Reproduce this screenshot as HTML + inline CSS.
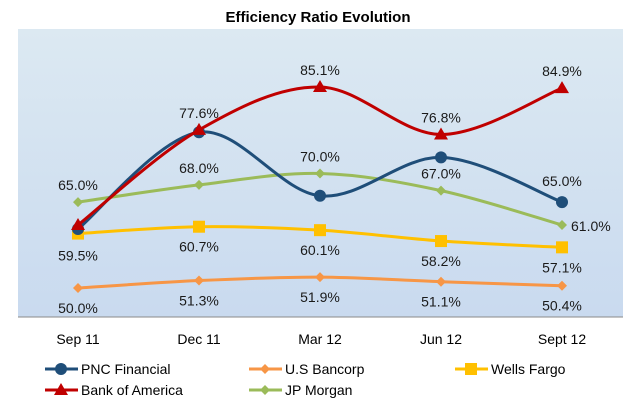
<!DOCTYPE html>
<html><head><meta charset="utf-8"><style>
body{margin:0;background:#fff;}
svg text{font-family:"Liberation Sans",sans-serif;}
</style></head><body>
<svg id="c" width="636" height="402" xmlns="http://www.w3.org/2000/svg">
<defs><linearGradient id="bg" x1="0" y1="0" x2="0" y2="1"><stop offset="0" stop-color="#dce9f2"/><stop offset="1" stop-color="#c9daef"/></linearGradient></defs>
<rect x="18" y="29" width="605" height="288" fill="url(#bg)"/>
<line x1="18" y1="317" x2="623" y2="317" stroke="#8a8a8a" stroke-width="1"/>
<text x="318" y="22" text-anchor="middle" font-size="15" font-weight="bold" fill="#000">Efficiency Ratio Evolution</text>
<g id="marks"></g>
<g id="legend"></g>
</svg>
<script>
const categories=["Sep 11","Dec 11","Mar 12","Jun 12","Sept 12"];
const pncValues=[60.3,77.2,66.1,72.8,65.0];
const bofaValues=[61.0,77.6,85.1,76.8,84.9];
const jpmValues=[65.0,68.0,70.0,67.0,61.0];
const wellsValues=[59.5,60.7,60.1,58.2,57.1];
const usbValues=[50.0,51.3,51.9,51.1,50.4];
const NS="http://www.w3.org/2000/svg";
const xAt=i=>78+i*121;
const yAt=v=>288-(v-50)*5.727;
const g=document.getElementById('marks');
function mk(t,a,p){const e=document.createElementNS(NS,t);for(const k in a)e.setAttribute(k,a[k]);(p||g).appendChild(e);return e;}
function smooth(pts){let d=`M${pts[0][0]},${pts[0][1]}`;for(let i=0;i<pts.length-1;i++){const p0=pts[i-1]||pts[i],p1=pts[i],p2=pts[i+1],p3=pts[i+2]||p2;const t=1/6;d+=` C${p1[0]+(p2[0]-p0[0])*t},${p1[1]+(p2[1]-p0[1])*t} ${p2[0]-(p3[0]-p1[0])*t},${p2[1]-(p3[1]-p1[1])*t} ${p2[0]},${p2[1]}`;}return d;}
function marker(type,x,y,c,parent){
 if(type==='circle')return mk('circle',{cx:x,cy:y,r:6,fill:c},parent);
 if(type==='tri')return mk('polygon',{points:`${x},${y-7} ${x+7},${y+5} ${x-7},${y+5}`,fill:c},parent);
 if(type==='square')return mk('rect',{x:x-6,y:y-6,width:12,height:12,fill:c},parent);
 return mk('polygon',{points:`${x},${y-5} ${x+5},${y} ${x},${y+5} ${x-5},${y}`,fill:c},parent);
}
const series=[
 {name:'us-bancorp',vals:usbValues,c:'#f79646',m:'diamond',lab:'below'},
 {name:'wells-fargo',vals:wellsValues,c:'#ffc000',m:'square',lab:'below'},
 {name:'jp-morgan',vals:jpmValues,c:'#9bbb59',m:'diamond',lab:'above'},
 {name:'pnc-financial',vals:pncValues,c:'#1f4e79',m:'circle',lab:'pnc'},
 {name:'bank-of-america',vals:bofaValues,c:'#c00000',m:'tri',lab:'above'}
];
series.forEach(s=>{
 const pts=s.vals.map((v,i)=>[xAt(i),yAt(v)]);
 const p=mk('path',{d:smooth(pts),fill:'none',stroke:s.c,'stroke-width':3});
 
 
 pts.forEach((q,i)=>{
  const m=marker(s.m,q[0],q[1],s.c);
  
  
  let lx=q[0],ly=null,anchor='middle';
  if(s.lab==='above')ly=q[1]-12;
  else if(s.lab==='below')ly=q[1]+25;
  else if(s.lab==='pnc'&&i===4)ly=q[1]-16;
  if(s.name==='bank-of-america'&&i===0)ly=null;
  if(s.name==='jp-morgan'&&i===4){lx=q[0]+9;ly=q[1]+6;anchor='start';}
  if(s.name==='wells-fargo'&&i===0)ly=q[1]+27;
  if(ly!==null){
   const t=mk('text',{x:lx,y:ly,'text-anchor':anchor,'font-size':14,fill:'#1a1a1a'});
   t.textContent=s.vals[i].toFixed(1)+'%';
   
   
  }
 });
});
categories.forEach((c,i)=>{
 const t=mk('text',{x:xAt(i),y:344,'text-anchor':'middle','font-size':14,fill:'#000'});
 t.textContent=c;
 
 
});
const lg=document.getElementById('legend');
const leg=[
 ['PNC Financial','#1f4e79','circle',45,369],['U.S Bancorp','#f79646','diamond',249,369],['Wells Fargo','#ffc000','square',455,369],
 ['Bank of America','#c00000','tri',45,390],['JP Morgan','#9bbb59','diamond',249,390]];
leg.forEach(l=>{
 const grp=mk('g',{},lg);
 
 
 mk('line',{x1:l[3],y1:l[4],x2:l[3]+33,y2:l[4],stroke:l[1],'stroke-width':3},grp);
 marker(l[2],l[3]+16,l[4],l[1],grp);
 const t=mk('text',{x:l[3]+36,y:l[4]+5,'font-size':14,fill:'#000'},grp);
 t.textContent=l[0];
});
</script>
</body></html>
